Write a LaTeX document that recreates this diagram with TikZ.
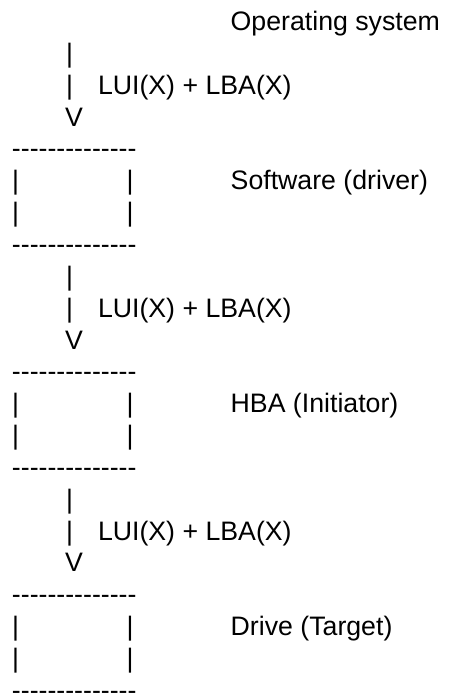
\documentclass[tikz,border=0pt]{standalone}
\usepackage{fontspec}
\newfontfamily\asc{Liberation Sans}
\begin{document}
\begin{tikzpicture}[x=1pt,y=-1pt,
  txt/.style={anchor=base west, inner sep=0pt, outer sep=0pt, text=black,
              font=\asc\fontsize{26.7}{32}\selectfont}]
\fill[white] (0,0) rectangle (449,694);
\useasboundingbox (0,0) rectangle (449,694);
\node[txt] (os) at (230.7,30.5) {Operating system};
\foreach \i/\lab in {0/{Software (driver)},1/{HBA (Initiator)},2/{Drive (Target)}} {
  \pgfmathsetmacro\yb{62.35+7*31.85*\i}
  \node[txt] (stemA-\i) at (66,{\yb}) {|};
  \node[txt] (stemB-\i) at (66,{\yb+31.85}) {|};
  \node[txt] (msg-\i) at (98,{\yb+31.85}) {LUI(X) + LBA(X)};
  \node[txt] (head-\i) at (65,{\yb+2*31.85}) {V};
  \node[txt] (top-\i) at (12,{\yb+3*31.85}) {--------------};
  \node[txt] (lA-\i) at (12.2,{\yb+4*31.85}) {|};
  \node[txt] (rA-\i) at (126.5,{\yb+4*31.85}) {|};
  \node[txt] (name-\i) at (230.7,{\yb+4*31.85}) {\lab};
  \node[txt] (lB-\i) at (12.2,{\yb+5*31.85}) {|};
  \node[txt] (rB-\i) at (126.5,{\yb+5*31.85}) {|};
  \node[txt] (bot-\i) at (12,{\yb+6*31.85}) {--------------};
}
\end{tikzpicture}
\end{document}
